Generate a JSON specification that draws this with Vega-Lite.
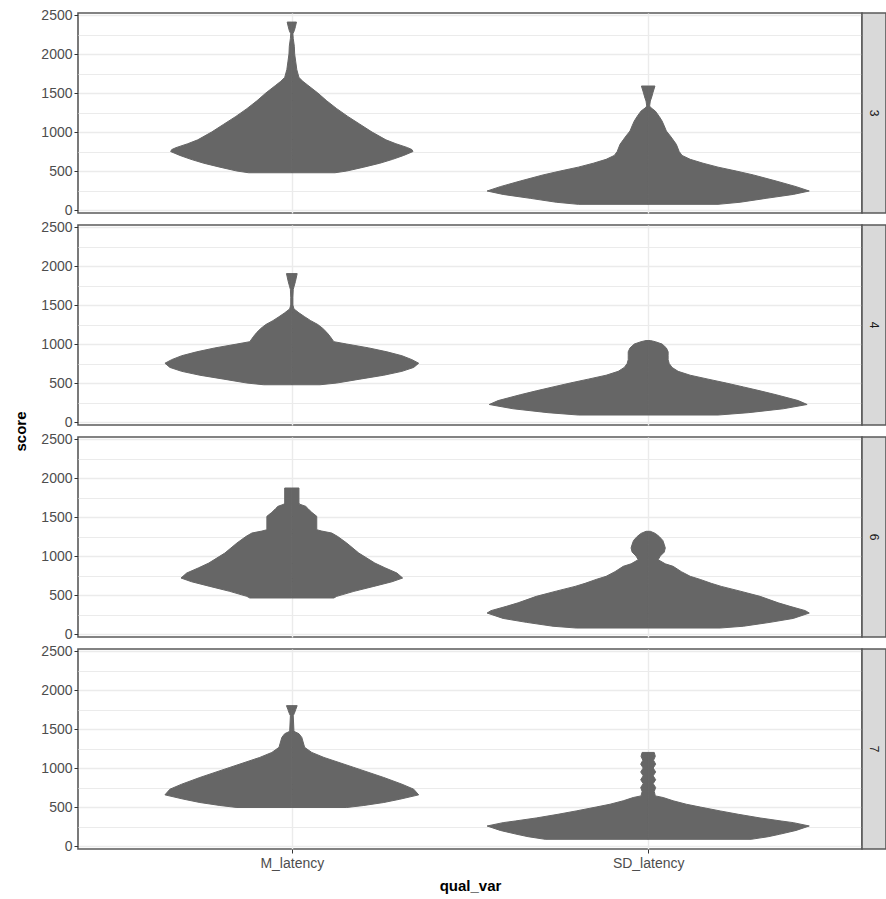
{
  "$schema": "https://vega.github.io/schema/vega-lite/v6.json",
  "padding": {"left": 13, "top": 7, "right": 0, "bottom": 0},
  "autosize": {"type": "pad"},
  "background": "white",
  "config": {
    "font": "Liberation Sans",
    "axis": {"labelColor": "#4d4d4d", "labelFontSize": 14, "tickColor": "#333333", "titleFontSize": 15, "titleFontWeight": "bold", "titleColor": "#000000"}
  },
  "columns": 2,
  "spacing": {"row": 12, "column": 0},
  "bounds": "flush",
  "datasets": {
    "violins": [
      {"grp":"3","qual_var":"M_latency","score":478,"hw":0.121},{"grp":"3","qual_var":"M_latency","score":500,"hw":0.154},{"grp":"3","qual_var":"M_latency","score":550,"hw":0.202},{"grp":"3","qual_var":"M_latency","score":600,"hw":0.247},{"grp":"3","qual_var":"M_latency","score":650,"hw":0.283},{"grp":"3","qual_var":"M_latency","score":700,"hw":0.314},{"grp":"3","qual_var":"M_latency","score":750,"hw":0.340},{"grp":"3","qual_var":"M_latency","score":775,"hw":0.337},{"grp":"3","qual_var":"M_latency","score":800,"hw":0.325},{"grp":"3","qual_var":"M_latency","score":850,"hw":0.292},{"grp":"3","qual_var":"M_latency","score":900,"hw":0.264},{"grp":"3","qual_var":"M_latency","score":1000,"hw":0.225},{"grp":"3","qual_var":"M_latency","score":1100,"hw":0.191},{"grp":"3","qual_var":"M_latency","score":1200,"hw":0.157},{"grp":"3","qual_var":"M_latency","score":1300,"hw":0.126},{"grp":"3","qual_var":"M_latency","score":1400,"hw":0.098},{"grp":"3","qual_var":"M_latency","score":1500,"hw":0.073},{"grp":"3","qual_var":"M_latency","score":1600,"hw":0.045},{"grp":"3","qual_var":"M_latency","score":1650,"hw":0.031},{"grp":"3","qual_var":"M_latency","score":1700,"hw":0.020},{"grp":"3","qual_var":"M_latency","score":1800,"hw":0.014},{"grp":"3","qual_var":"M_latency","score":1900,"hw":0.011},{"grp":"3","qual_var":"M_latency","score":2000,"hw":0.008},{"grp":"3","qual_var":"M_latency","score":2100,"hw":0.007},{"grp":"3","qual_var":"M_latency","score":2200,"hw":0.004},{"grp":"3","qual_var":"M_latency","score":2260,"hw":0.003},{"grp":"3","qual_var":"M_latency","score":2300,"hw":0.007},{"grp":"3","qual_var":"M_latency","score":2350,"hw":0.010},{"grp":"3","qual_var":"M_latency","score":2410,"hw":0.013},
      {"grp":"3","qual_var":"SD_latency","score":73,"hw":0.196},{"grp":"3","qual_var":"SD_latency","score":100,"hw":0.258},{"grp":"3","qual_var":"SD_latency","score":150,"hw":0.331},{"grp":"3","qual_var":"SD_latency","score":200,"hw":0.407},{"grp":"3","qual_var":"SD_latency","score":244,"hw":0.452},{"grp":"3","qual_var":"SD_latency","score":300,"hw":0.415},{"grp":"3","qual_var":"SD_latency","score":372,"hw":0.359},{"grp":"3","qual_var":"SD_latency","score":450,"hw":0.295},{"grp":"3","qual_var":"SD_latency","score":500,"hw":0.247},{"grp":"3","qual_var":"SD_latency","score":550,"hw":0.196},{"grp":"3","qual_var":"SD_latency","score":600,"hw":0.154},{"grp":"3","qual_var":"SD_latency","score":650,"hw":0.118},{"grp":"3","qual_var":"SD_latency","score":700,"hw":0.095},{"grp":"3","qual_var":"SD_latency","score":750,"hw":0.087},{"grp":"3","qual_var":"SD_latency","score":842,"hw":0.079},{"grp":"3","qual_var":"SD_latency","score":900,"hw":0.070},{"grp":"3","qual_var":"SD_latency","score":950,"hw":0.062},{"grp":"3","qual_var":"SD_latency","score":1013,"hw":0.051},{"grp":"3","qual_var":"SD_latency","score":1080,"hw":0.045},{"grp":"3","qual_var":"SD_latency","score":1141,"hw":0.039},{"grp":"3","qual_var":"SD_latency","score":1200,"hw":0.031},{"grp":"3","qual_var":"SD_latency","score":1269,"hw":0.020},{"grp":"3","qual_var":"SD_latency","score":1310,"hw":0.008},{"grp":"3","qual_var":"SD_latency","score":1333,"hw":0.004},{"grp":"3","qual_var":"SD_latency","score":1397,"hw":0.006},{"grp":"3","qual_var":"SD_latency","score":1450,"hw":0.010},{"grp":"3","qual_var":"SD_latency","score":1500,"hw":0.013},{"grp":"3","qual_var":"SD_latency","score":1590,"hw":0.019},
      {"grp":"4","qual_var":"M_latency","score":478,"hw":0.079},{"grp":"4","qual_var":"M_latency","score":500,"hw":0.126},{"grp":"4","qual_var":"M_latency","score":550,"hw":0.191},{"grp":"4","qual_var":"M_latency","score":600,"hw":0.258},{"grp":"4","qual_var":"M_latency","score":650,"hw":0.309},{"grp":"4","qual_var":"M_latency","score":700,"hw":0.342},{"grp":"4","qual_var":"M_latency","score":754,"hw":0.356},{"grp":"4","qual_var":"M_latency","score":800,"hw":0.337},{"grp":"4","qual_var":"M_latency","score":850,"hw":0.309},{"grp":"4","qual_var":"M_latency","score":900,"hw":0.267},{"grp":"4","qual_var":"M_latency","score":950,"hw":0.216},{"grp":"4","qual_var":"M_latency","score":1000,"hw":0.154},{"grp":"4","qual_var":"M_latency","score":1030,"hw":0.118},{"grp":"4","qual_var":"M_latency","score":1100,"hw":0.107},{"grp":"4","qual_var":"M_latency","score":1150,"hw":0.098},{"grp":"4","qual_var":"M_latency","score":1200,"hw":0.087},{"grp":"4","qual_var":"M_latency","score":1250,"hw":0.073},{"grp":"4","qual_var":"M_latency","score":1300,"hw":0.053},{"grp":"4","qual_var":"M_latency","score":1350,"hw":0.036},{"grp":"4","qual_var":"M_latency","score":1400,"hw":0.020},{"grp":"4","qual_var":"M_latency","score":1450,"hw":0.006},{"grp":"4","qual_var":"M_latency","score":1500,"hw":0.003},{"grp":"4","qual_var":"M_latency","score":1600,"hw":0.003},{"grp":"4","qual_var":"M_latency","score":1700,"hw":0.004},{"grp":"4","qual_var":"M_latency","score":1733,"hw":0.006},{"grp":"4","qual_var":"M_latency","score":1800,"hw":0.010},{"grp":"4","qual_var":"M_latency","score":1903,"hw":0.015},
      {"grp":"4","qual_var":"SD_latency","score":90,"hw":0.196},{"grp":"4","qual_var":"SD_latency","score":120,"hw":0.281},{"grp":"4","qual_var":"SD_latency","score":170,"hw":0.379},{"grp":"4","qual_var":"SD_latency","score":225,"hw":0.446},{"grp":"4","qual_var":"SD_latency","score":275,"hw":0.421},{"grp":"4","qual_var":"SD_latency","score":350,"hw":0.359},{"grp":"4","qual_var":"SD_latency","score":400,"hw":0.314},{"grp":"4","qual_var":"SD_latency","score":450,"hw":0.267},{"grp":"4","qual_var":"SD_latency","score":500,"hw":0.219},{"grp":"4","qual_var":"SD_latency","score":550,"hw":0.168},{"grp":"4","qual_var":"SD_latency","score":600,"hw":0.118},{"grp":"4","qual_var":"SD_latency","score":650,"hw":0.084},{"grp":"4","qual_var":"SD_latency","score":700,"hw":0.067},{"grp":"4","qual_var":"SD_latency","score":750,"hw":0.059},{"grp":"4","qual_var":"SD_latency","score":800,"hw":0.056},{"grp":"4","qual_var":"SD_latency","score":850,"hw":0.056},{"grp":"4","qual_var":"SD_latency","score":900,"hw":0.056},{"grp":"4","qual_var":"SD_latency","score":950,"hw":0.051},{"grp":"4","qual_var":"SD_latency","score":1000,"hw":0.039},{"grp":"4","qual_var":"SD_latency","score":1030,"hw":0.020},{"grp":"4","qual_var":"SD_latency","score":1045,"hw":0.006},
      {"grp":"6","qual_var":"M_latency","score":462,"hw":0.118},{"grp":"6","qual_var":"M_latency","score":483,"hw":0.126},{"grp":"6","qual_var":"M_latency","score":547,"hw":0.174},{"grp":"6","qual_var":"M_latency","score":611,"hw":0.230},{"grp":"6","qual_var":"M_latency","score":670,"hw":0.281},{"grp":"6","qual_var":"M_latency","score":718,"hw":0.311},{"grp":"6","qual_var":"M_latency","score":782,"hw":0.295},{"grp":"6","qual_var":"M_latency","score":850,"hw":0.261},{"grp":"6","qual_var":"M_latency","score":910,"hw":0.233},{"grp":"6","qual_var":"M_latency","score":1038,"hw":0.188},{"grp":"6","qual_var":"M_latency","score":1167,"hw":0.154},{"grp":"6","qual_var":"M_latency","score":1250,"hw":0.129},{"grp":"6","qual_var":"M_latency","score":1295,"hw":0.112},{"grp":"6","qual_var":"M_latency","score":1320,"hw":0.084},{"grp":"6","qual_var":"M_latency","score":1337,"hw":0.070},{"grp":"6","qual_var":"M_latency","score":1509,"hw":0.070},{"grp":"6","qual_var":"M_latency","score":1560,"hw":0.056},{"grp":"6","qual_var":"M_latency","score":1610,"hw":0.045},{"grp":"6","qual_var":"M_latency","score":1637,"hw":0.039},{"grp":"6","qual_var":"M_latency","score":1665,"hw":0.022},{"grp":"6","qual_var":"M_latency","score":1679,"hw":0.020},{"grp":"6","qual_var":"M_latency","score":1872,"hw":0.020},
      {"grp":"6","qual_var":"SD_latency","score":77,"hw":0.202},{"grp":"6","qual_var":"SD_latency","score":100,"hw":0.267},{"grp":"6","qual_var":"SD_latency","score":150,"hw":0.342},{"grp":"6","qual_var":"SD_latency","score":200,"hw":0.407},{"grp":"6","qual_var":"SD_latency","score":269,"hw":0.452},{"grp":"6","qual_var":"SD_latency","score":300,"hw":0.441},{"grp":"6","qual_var":"SD_latency","score":355,"hw":0.398},{"grp":"6","qual_var":"SD_latency","score":400,"hw":0.365},{"grp":"6","qual_var":"SD_latency","score":483,"hw":0.314},{"grp":"6","qual_var":"SD_latency","score":550,"hw":0.258},{"grp":"6","qual_var":"SD_latency","score":611,"hw":0.205},{"grp":"6","qual_var":"SD_latency","score":650,"hw":0.177},{"grp":"6","qual_var":"SD_latency","score":700,"hw":0.146},{"grp":"6","qual_var":"SD_latency","score":740,"hw":0.118},{"grp":"6","qual_var":"SD_latency","score":800,"hw":0.093},{"grp":"6","qual_var":"SD_latency","score":868,"hw":0.070},{"grp":"6","qual_var":"SD_latency","score":900,"hw":0.048},{"grp":"6","qual_var":"SD_latency","score":953,"hw":0.028},{"grp":"6","qual_var":"SD_latency","score":1000,"hw":0.034},{"grp":"6","qual_var":"SD_latency","score":1050,"hw":0.045},{"grp":"6","qual_var":"SD_latency","score":1103,"hw":0.048},{"grp":"6","qual_var":"SD_latency","score":1150,"hw":0.045},{"grp":"6","qual_var":"SD_latency","score":1200,"hw":0.041},{"grp":"6","qual_var":"SD_latency","score":1250,"hw":0.031},{"grp":"6","qual_var":"SD_latency","score":1290,"hw":0.020},{"grp":"6","qual_var":"SD_latency","score":1317,"hw":0.006},
      {"grp":"7","qual_var":"M_latency","score":494,"hw":0.154},{"grp":"7","qual_var":"M_latency","score":520,"hw":0.202},{"grp":"7","qual_var":"M_latency","score":558,"hw":0.258},{"grp":"7","qual_var":"M_latency","score":600,"hw":0.303},{"grp":"7","qual_var":"M_latency","score":656,"hw":0.356},{"grp":"7","qual_var":"M_latency","score":729,"hw":0.342},{"grp":"7","qual_var":"M_latency","score":793,"hw":0.309},{"grp":"7","qual_var":"M_latency","score":879,"hw":0.258},{"grp":"7","qual_var":"M_latency","score":1008,"hw":0.174},{"grp":"7","qual_var":"M_latency","score":1136,"hw":0.090},{"grp":"7","qual_var":"M_latency","score":1200,"hw":0.056},{"grp":"7","qual_var":"M_latency","score":1265,"hw":0.036},{"grp":"7","qual_var":"M_latency","score":1393,"hw":0.028},{"grp":"7","qual_var":"M_latency","score":1440,"hw":0.020},{"grp":"7","qual_var":"M_latency","score":1470,"hw":0.006},{"grp":"7","qual_var":"M_latency","score":1671,"hw":0.004},{"grp":"7","qual_var":"M_latency","score":1700,"hw":0.007},{"grp":"7","qual_var":"M_latency","score":1750,"hw":0.011},{"grp":"7","qual_var":"M_latency","score":1800,"hw":0.015},
      {"grp":"7","qual_var":"SD_latency","score":86,"hw":0.289},{"grp":"7","qual_var":"SD_latency","score":120,"hw":0.337},{"grp":"7","qual_var":"SD_latency","score":150,"hw":0.368},{"grp":"7","qual_var":"SD_latency","score":200,"hw":0.415},{"grp":"7","qual_var":"SD_latency","score":257,"hw":0.452},{"grp":"7","qual_var":"SD_latency","score":300,"hw":0.407},{"grp":"7","qual_var":"SD_latency","score":321,"hw":0.373},{"grp":"7","qual_var":"SD_latency","score":360,"hw":0.314},{"grp":"7","qual_var":"SD_latency","score":407,"hw":0.253},{"grp":"7","qual_var":"SD_latency","score":450,"hw":0.202},{"grp":"7","qual_var":"SD_latency","score":500,"hw":0.146},{"grp":"7","qual_var":"SD_latency","score":536,"hw":0.107},{"grp":"7","qual_var":"SD_latency","score":580,"hw":0.070},{"grp":"7","qual_var":"SD_latency","score":622,"hw":0.042},{"grp":"7","qual_var":"SD_latency","score":643,"hw":0.020},{"grp":"7","qual_var":"SD_latency","score":700,"hw":0.017},{"grp":"7","qual_var":"SD_latency","score":750,"hw":0.021},{"grp":"7","qual_var":"SD_latency","score":800,"hw":0.014},{"grp":"7","qual_var":"SD_latency","score":850,"hw":0.021},{"grp":"7","qual_var":"SD_latency","score":900,"hw":0.014},{"grp":"7","qual_var":"SD_latency","score":950,"hw":0.021},{"grp":"7","qual_var":"SD_latency","score":1000,"hw":0.014},{"grp":"7","qual_var":"SD_latency","score":1050,"hw":0.021},{"grp":"7","qual_var":"SD_latency","score":1100,"hw":0.015},{"grp":"7","qual_var":"SD_latency","score":1150,"hw":0.020},{"grp":"7","qual_var":"SD_latency","score":1200,"hw":0.017}
    ]
  },
  "concat": [
    {
      "width": 784, "height": 200,
      "view": {"fill": "white", "stroke": "#595959", "strokeWidth": 1.6},
      "data": {"name": "violins"},
      "transform": [{"filter": {"field": "grp", "equal": "3"}}],
      "encoding": {"y": {"field": "score", "type": "quantitative", "scale": {"domain": [-38, 2526], "nice": false, "zero": false},
        "axis": {"values": [0,250,500,750,1000,1250,1500,1750,2000,2250,2500], "format": "d", "labelExpr": "datum.value % 500 === 0 ? datum.label : ''", "tickOpacity": {"condition": {"test": "datum.value % 500 !== 0", "value": 0}, "value": 1}, "gridColor": "#ebebeb", "gridWidth": {"condition": {"test": "datum.value % 500 !== 0", "value": 1.1}, "value": 1.6}, "domain": false, "tickSize": 4, "labelPadding": 2, "title": null}}},
      "layer": [
        {"mark": {"type": "point", "opacity": 0}, "encoding": {"x": {"field": "qual_var", "type": "nominal", "scale": {"type": "point", "domain": ["M_latency", "SD_latency"], "padding": 0.6}, "axis": {"grid": true, "gridColor": "#ebebeb", "gridWidth": 1.4, "domain": false, "ticks": false, "labels": false, "title": null}}}},
        {"transform": [{"filter": {"field": "qual_var", "equal": "M_latency"}}], "mark": {"type": "area", "orient": "horizontal", "fill": "#666666", "stroke": "#666666", "strokeWidth": 1}, "encoding": {"x": {"field": "hw", "type": "quantitative", "scale": {"domain": [-0.6, 1.6], "nice": false, "zero": false}, "axis": null}}},
        {"transform": [{"filter": {"field": "qual_var", "equal": "M_latency"}}], "mark": {"type": "area", "orient": "horizontal", "fill": "#666666", "stroke": "#666666", "strokeWidth": 1}, "encoding": {"x": {"field": "hw", "type": "quantitative", "scale": {"domain": [-1.6, 0.6], "reverse": true, "nice": false, "zero": false}, "axis": null}}},
        {"transform": [{"filter": {"field": "qual_var", "equal": "SD_latency"}}], "mark": {"type": "area", "orient": "horizontal", "fill": "#666666", "stroke": "#666666", "strokeWidth": 1}, "encoding": {"x": {"field": "hw", "type": "quantitative", "scale": {"domain": [-1.6, 0.6], "nice": false, "zero": false}, "axis": null}}},
        {"transform": [{"filter": {"field": "qual_var", "equal": "SD_latency"}}], "mark": {"type": "area", "orient": "horizontal", "fill": "#666666", "stroke": "#666666", "strokeWidth": 1}, "encoding": {"x": {"field": "hw", "type": "quantitative", "scale": {"domain": [-0.6, 1.6], "reverse": true, "nice": false, "zero": false}, "axis": null}}}
      ],
      "resolve": {"scale": {"x": "independent"}}
    },
    {
      "width": 24, "height": 200,
      "view": {"fill": "#d9d9d9", "stroke": "#595959", "strokeWidth": 1.6},
      "data": {"name": "violins"},
      "transform": [{"filter": {"field": "grp", "equal": "3"}}, {"aggregate": [{"op": "count", "as": "n"}], "groupby": ["grp"]}],
      "mark": {"type": "text", "angle": 90, "fontSize": 12, "color": "#1a1a1a"},
      "encoding": {"text": {"field": "grp", "type": "nominal"}}
    },
    {
      "width": 784, "height": 200,
      "view": {"fill": "white", "stroke": "#595959", "strokeWidth": 1.6},
      "data": {"name": "violins"},
      "transform": [{"filter": {"field": "grp", "equal": "4"}}],
      "encoding": {"y": {"field": "score", "type": "quantitative", "scale": {"domain": [-38, 2526], "nice": false, "zero": false},
        "axis": {"values": [0,250,500,750,1000,1250,1500,1750,2000,2250,2500], "format": "d", "labelExpr": "datum.value % 500 === 0 ? datum.label : ''", "tickOpacity": {"condition": {"test": "datum.value % 500 !== 0", "value": 0}, "value": 1}, "gridColor": "#ebebeb", "gridWidth": {"condition": {"test": "datum.value % 500 !== 0", "value": 1.1}, "value": 1.6}, "domain": false, "tickSize": 4, "labelPadding": 2, "title": "score", "titleY": 206, "titlePadding": 12}}},
      "layer": [
        {"mark": {"type": "point", "opacity": 0}, "encoding": {"x": {"field": "qual_var", "type": "nominal", "scale": {"type": "point", "domain": ["M_latency", "SD_latency"], "padding": 0.6}, "axis": {"grid": true, "gridColor": "#ebebeb", "gridWidth": 1.4, "domain": false, "ticks": false, "labels": false, "title": null}}}},
        {"transform": [{"filter": {"field": "qual_var", "equal": "M_latency"}}], "mark": {"type": "area", "orient": "horizontal", "fill": "#666666", "stroke": "#666666", "strokeWidth": 1}, "encoding": {"x": {"field": "hw", "type": "quantitative", "scale": {"domain": [-0.6, 1.6], "nice": false, "zero": false}, "axis": null}}},
        {"transform": [{"filter": {"field": "qual_var", "equal": "M_latency"}}], "mark": {"type": "area", "orient": "horizontal", "fill": "#666666", "stroke": "#666666", "strokeWidth": 1}, "encoding": {"x": {"field": "hw", "type": "quantitative", "scale": {"domain": [-1.6, 0.6], "reverse": true, "nice": false, "zero": false}, "axis": null}}},
        {"transform": [{"filter": {"field": "qual_var", "equal": "SD_latency"}}], "mark": {"type": "area", "orient": "horizontal", "fill": "#666666", "stroke": "#666666", "strokeWidth": 1}, "encoding": {"x": {"field": "hw", "type": "quantitative", "scale": {"domain": [-1.6, 0.6], "nice": false, "zero": false}, "axis": null}}},
        {"transform": [{"filter": {"field": "qual_var", "equal": "SD_latency"}}], "mark": {"type": "area", "orient": "horizontal", "fill": "#666666", "stroke": "#666666", "strokeWidth": 1}, "encoding": {"x": {"field": "hw", "type": "quantitative", "scale": {"domain": [-0.6, 1.6], "reverse": true, "nice": false, "zero": false}, "axis": null}}}
      ],
      "resolve": {"scale": {"x": "independent"}}
    },
    {
      "width": 24, "height": 200,
      "view": {"fill": "#d9d9d9", "stroke": "#595959", "strokeWidth": 1.6},
      "data": {"name": "violins"},
      "transform": [{"filter": {"field": "grp", "equal": "4"}}, {"aggregate": [{"op": "count", "as": "n"}], "groupby": ["grp"]}],
      "mark": {"type": "text", "angle": 90, "fontSize": 12, "color": "#1a1a1a"},
      "encoding": {"text": {"field": "grp", "type": "nominal"}}
    },
    {
      "width": 784, "height": 200,
      "view": {"fill": "white", "stroke": "#595959", "strokeWidth": 1.6},
      "data": {"name": "violins"},
      "transform": [{"filter": {"field": "grp", "equal": "6"}}],
      "encoding": {"y": {"field": "score", "type": "quantitative", "scale": {"domain": [-38, 2526], "nice": false, "zero": false},
        "axis": {"values": [0,250,500,750,1000,1250,1500,1750,2000,2250,2500], "format": "d", "labelExpr": "datum.value % 500 === 0 ? datum.label : ''", "tickOpacity": {"condition": {"test": "datum.value % 500 !== 0", "value": 0}, "value": 1}, "gridColor": "#ebebeb", "gridWidth": {"condition": {"test": "datum.value % 500 !== 0", "value": 1.1}, "value": 1.6}, "domain": false, "tickSize": 4, "labelPadding": 2, "title": null}}},
      "layer": [
        {"mark": {"type": "point", "opacity": 0}, "encoding": {"x": {"field": "qual_var", "type": "nominal", "scale": {"type": "point", "domain": ["M_latency", "SD_latency"], "padding": 0.6}, "axis": {"grid": true, "gridColor": "#ebebeb", "gridWidth": 1.4, "domain": false, "ticks": false, "labels": false, "title": null}}}},
        {"transform": [{"filter": {"field": "qual_var", "equal": "M_latency"}}], "mark": {"type": "area", "orient": "horizontal", "fill": "#666666", "stroke": "#666666", "strokeWidth": 1}, "encoding": {"x": {"field": "hw", "type": "quantitative", "scale": {"domain": [-0.6, 1.6], "nice": false, "zero": false}, "axis": null}}},
        {"transform": [{"filter": {"field": "qual_var", "equal": "M_latency"}}], "mark": {"type": "area", "orient": "horizontal", "fill": "#666666", "stroke": "#666666", "strokeWidth": 1}, "encoding": {"x": {"field": "hw", "type": "quantitative", "scale": {"domain": [-1.6, 0.6], "reverse": true, "nice": false, "zero": false}, "axis": null}}},
        {"transform": [{"filter": {"field": "qual_var", "equal": "SD_latency"}}], "mark": {"type": "area", "orient": "horizontal", "fill": "#666666", "stroke": "#666666", "strokeWidth": 1}, "encoding": {"x": {"field": "hw", "type": "quantitative", "scale": {"domain": [-1.6, 0.6], "nice": false, "zero": false}, "axis": null}}},
        {"transform": [{"filter": {"field": "qual_var", "equal": "SD_latency"}}], "mark": {"type": "area", "orient": "horizontal", "fill": "#666666", "stroke": "#666666", "strokeWidth": 1}, "encoding": {"x": {"field": "hw", "type": "quantitative", "scale": {"domain": [-0.6, 1.6], "reverse": true, "nice": false, "zero": false}, "axis": null}}}
      ],
      "resolve": {"scale": {"x": "independent"}}
    },
    {
      "width": 24, "height": 200,
      "view": {"fill": "#d9d9d9", "stroke": "#595959", "strokeWidth": 1.6},
      "data": {"name": "violins"},
      "transform": [{"filter": {"field": "grp", "equal": "6"}}, {"aggregate": [{"op": "count", "as": "n"}], "groupby": ["grp"]}],
      "mark": {"type": "text", "angle": 90, "fontSize": 12, "color": "#1a1a1a"},
      "encoding": {"text": {"field": "grp", "type": "nominal"}}
    },
    {
      "width": 784, "height": 200,
      "view": {"fill": "white", "stroke": "#595959", "strokeWidth": 1.6},
      "data": {"name": "violins"},
      "transform": [{"filter": {"field": "grp", "equal": "7"}}],
      "encoding": {"y": {"field": "score", "type": "quantitative", "scale": {"domain": [-38, 2526], "nice": false, "zero": false},
        "axis": {"values": [0,250,500,750,1000,1250,1500,1750,2000,2250,2500], "format": "d", "labelExpr": "datum.value % 500 === 0 ? datum.label : ''", "tickOpacity": {"condition": {"test": "datum.value % 500 !== 0", "value": 0}, "value": 1}, "gridColor": "#ebebeb", "gridWidth": {"condition": {"test": "datum.value % 500 !== 0", "value": 1.1}, "value": 1.6}, "domain": false, "tickSize": 4, "labelPadding": 2, "title": null}}},
      "layer": [
        {"mark": {"type": "point", "opacity": 0}, "encoding": {"x": {"field": "qual_var", "type": "nominal", "scale": {"type": "point", "domain": ["M_latency", "SD_latency"], "padding": 0.6}, "axis": {"grid": true, "gridColor": "#ebebeb", "gridWidth": 1.4, "domain": false, "tickSize": 4, "labelAngle": 0, "labelPadding": 3, "title": "qual_var", "titlePadding": 8}}}},
        {"transform": [{"filter": {"field": "qual_var", "equal": "M_latency"}}], "mark": {"type": "area", "orient": "horizontal", "fill": "#666666", "stroke": "#666666", "strokeWidth": 1}, "encoding": {"x": {"field": "hw", "type": "quantitative", "scale": {"domain": [-0.6, 1.6], "nice": false, "zero": false}, "axis": null}}},
        {"transform": [{"filter": {"field": "qual_var", "equal": "M_latency"}}], "mark": {"type": "area", "orient": "horizontal", "fill": "#666666", "stroke": "#666666", "strokeWidth": 1}, "encoding": {"x": {"field": "hw", "type": "quantitative", "scale": {"domain": [-1.6, 0.6], "reverse": true, "nice": false, "zero": false}, "axis": null}}},
        {"transform": [{"filter": {"field": "qual_var", "equal": "SD_latency"}}], "mark": {"type": "area", "orient": "horizontal", "fill": "#666666", "stroke": "#666666", "strokeWidth": 1}, "encoding": {"x": {"field": "hw", "type": "quantitative", "scale": {"domain": [-1.6, 0.6], "nice": false, "zero": false}, "axis": null}}},
        {"transform": [{"filter": {"field": "qual_var", "equal": "SD_latency"}}], "mark": {"type": "area", "orient": "horizontal", "fill": "#666666", "stroke": "#666666", "strokeWidth": 1}, "encoding": {"x": {"field": "hw", "type": "quantitative", "scale": {"domain": [-0.6, 1.6], "reverse": true, "nice": false, "zero": false}, "axis": null}}}
      ],
      "resolve": {"scale": {"x": "independent"}}
    },
    {
      "width": 24, "height": 200,
      "view": {"fill": "#d9d9d9", "stroke": "#595959", "strokeWidth": 1.6},
      "data": {"name": "violins"},
      "transform": [{"filter": {"field": "grp", "equal": "7"}}, {"aggregate": [{"op": "count", "as": "n"}], "groupby": ["grp"]}],
      "mark": {"type": "text", "angle": 90, "fontSize": 12, "color": "#1a1a1a"},
      "encoding": {"text": {"field": "grp", "type": "nominal"}}
    }
  ]
}
